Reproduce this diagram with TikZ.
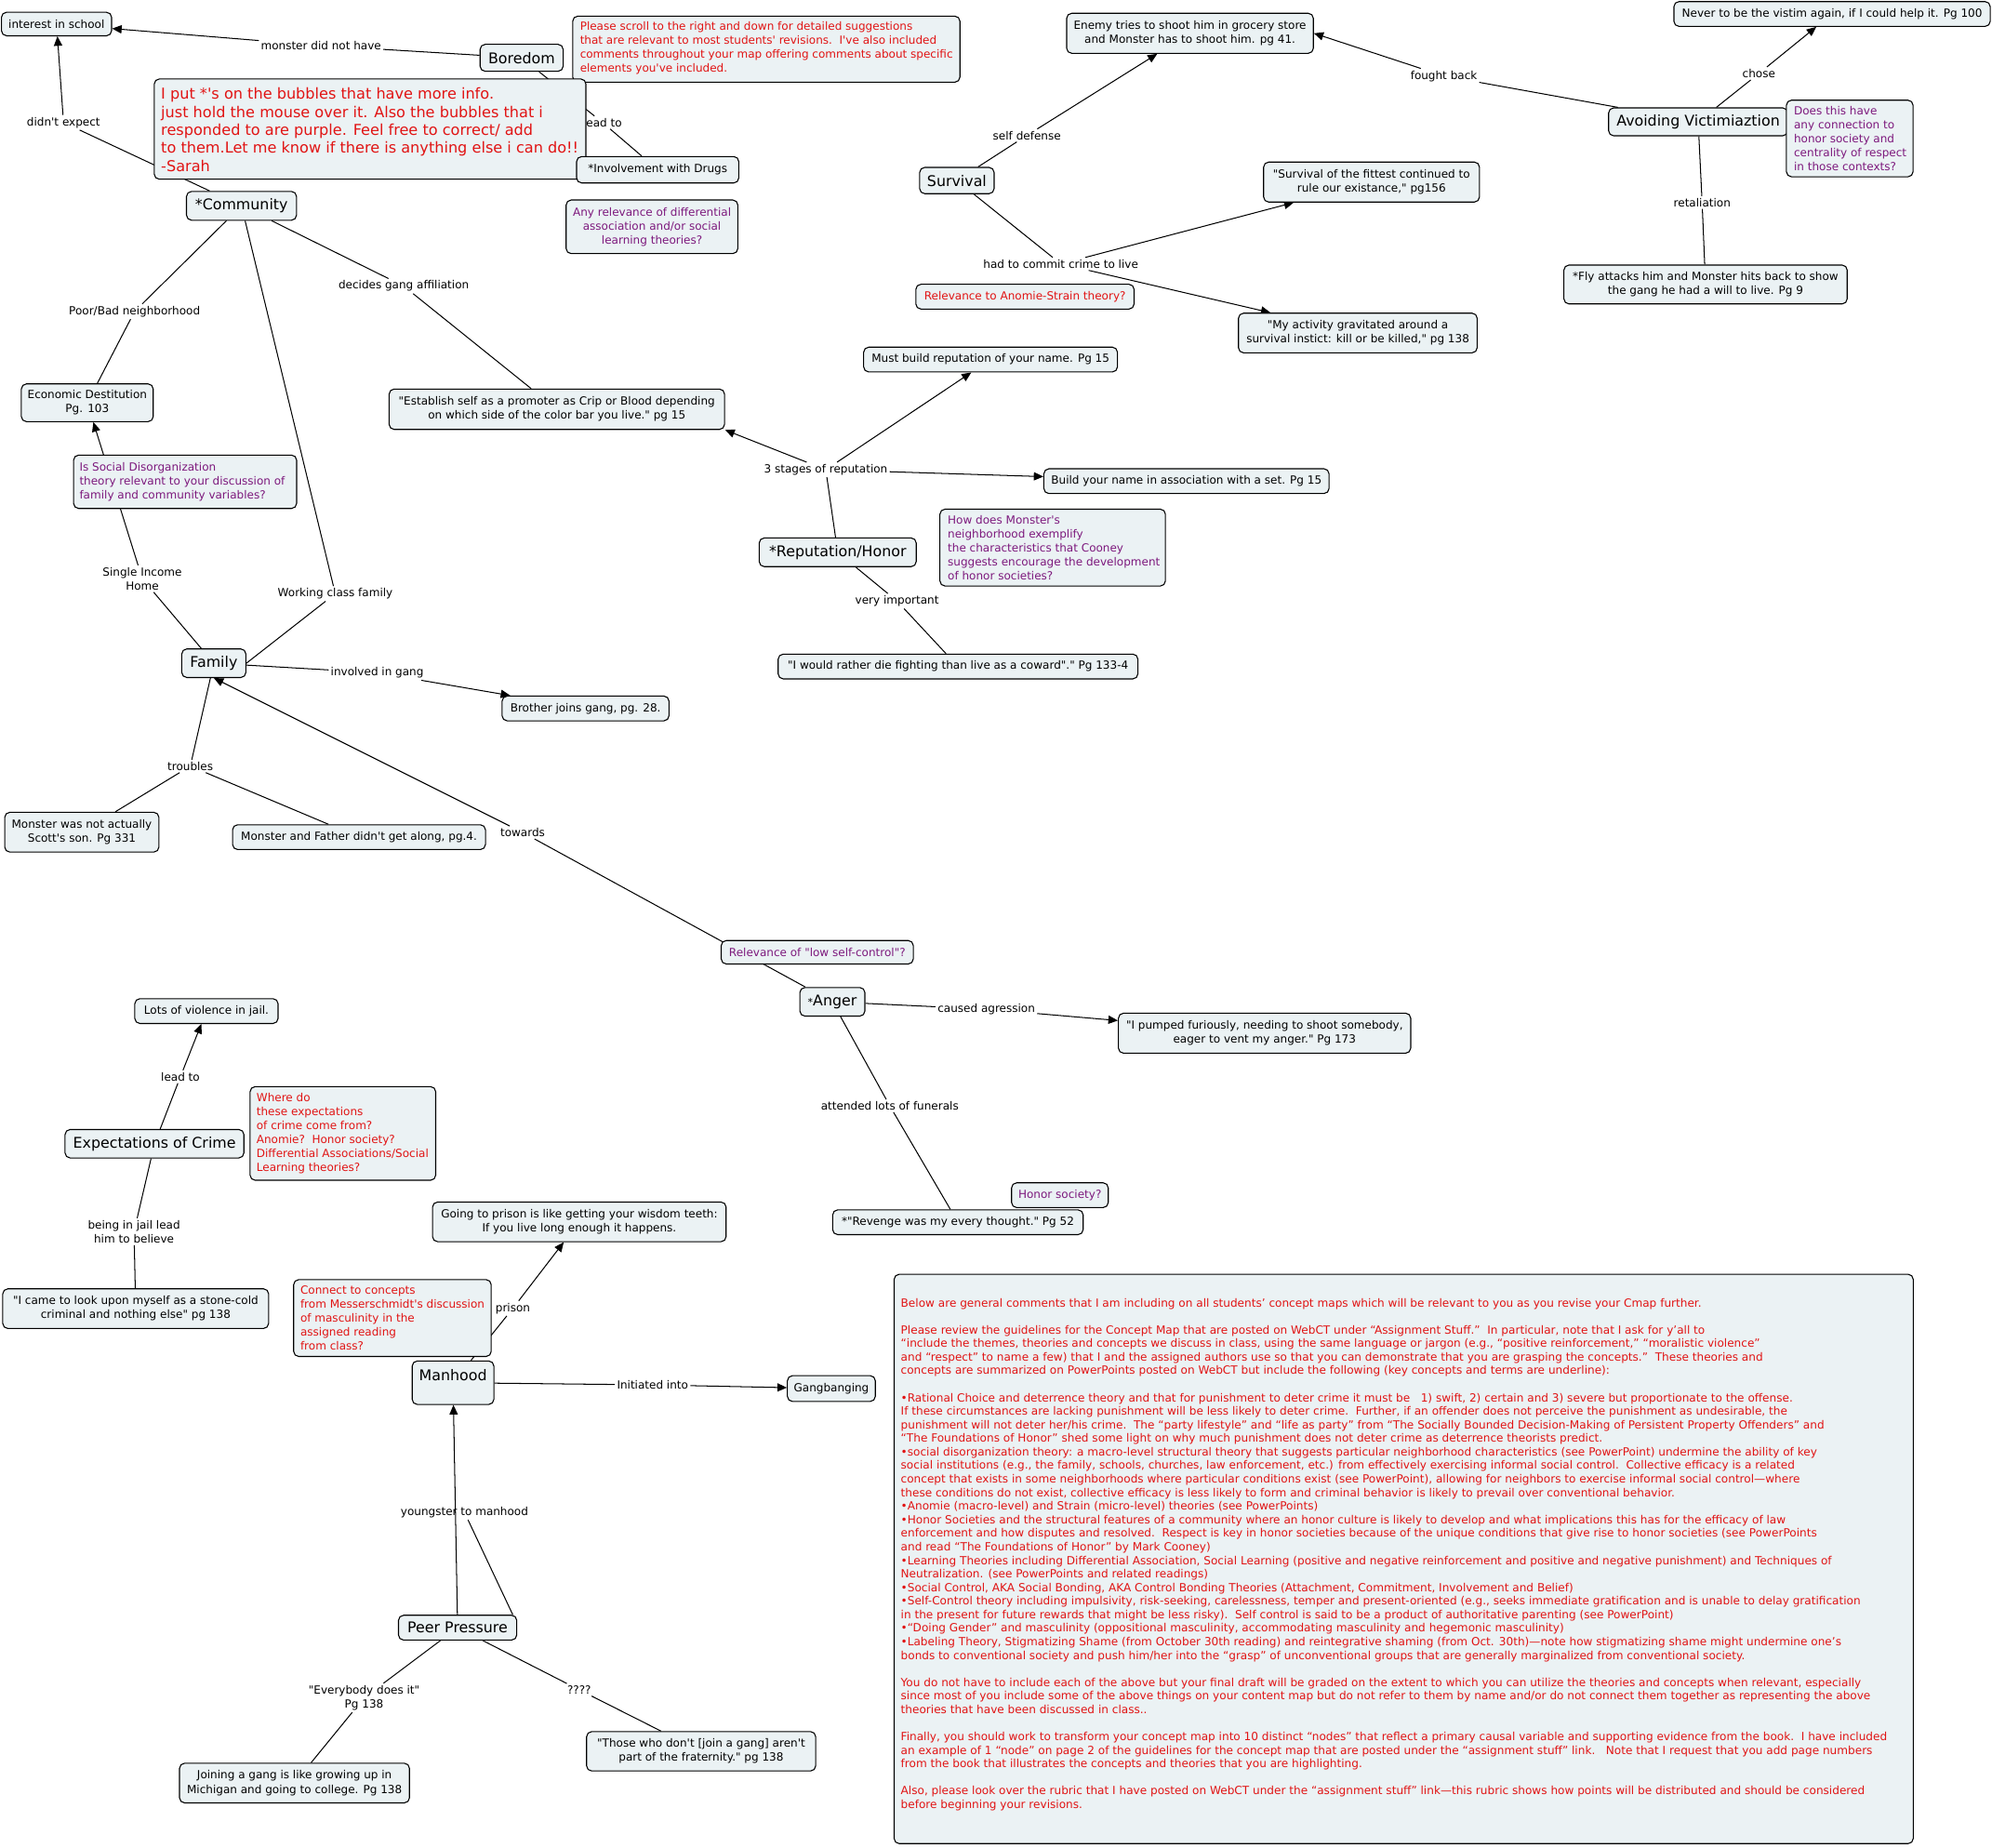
\documentclass[tikz,border=0pt]{standalone}
\usepackage{fontspec}
\setmainfont{DejaVu Sans}[Ligatures=TeXOff]
\usetikzlibrary{arrows.meta,calc}
\pgfdeclarelayer{background}
\pgfsetlayers{background,main}
\definecolor{boxfill}{RGB}{235,242,244}
\definecolor{cpurple}{RGB}{125,25,125}
\definecolor{cred}{RGB}{225,20,20}
\newcommand\fsN{\fontsize{8.8}{11}\selectfont}
\newcommand\fsB{\fontsize{11.6}{14}\selectfont}
\newcommand\fsS{\fontsize{11.8}{14.2}\selectfont}
\newcommand\fsC{\fontsize{8.85}{10.67}\selectfont}
\begin{document}
\begin{tikzpicture}[x=1pt,y=-1pt,
  cb/.style={draw=black,line width=0.8pt,fill=boxfill,rounded corners=4pt,inner sep=0pt,align=center,font=\fsN},
  bb/.style={cb,font=\fsB},
  sz/.style 2 args={minimum width=#1,minimum height=#2},
  pu/.style={text=cpurple},
  rd/.style={text=cred},
  lt/.style={anchor=west,inner sep=0pt,align=left,font=\fsN},
  lb/.style={inner sep=1.5pt,align=center,font=\fsN},
  ln/.style={line width=0.75pt},
  ar/.style={line width=0.75pt,-{Triangle[length=7.5pt,width=6.5pt]}}]
\useasboundingbox (0,0) rectangle (1568,1454);

% ---------- concepts ----------
\node[cb,sz={86.7}{18.5}] (interest) at (44.5,18.9) {interest in school};
\node[bb,sz={65.4}{21.2}] (boredom) at (410.6,45.5) {Boredom};
\node[cb,sz={304.8}{52}] (scroll) at (603.2,38.7) {};
\node[lt,rd] (scrolltxt) at ($(scroll.west)+(6,-0.8)$) {Please scroll to the right and down for detailed suggestions\\that are relevant to most students' revisions.\ \ I've also included\\comments throughout your map offering comments about specific\\elements you've included.};
\node[lb] (lmdnh) at (252.7,35.9) {monster did not have};
\node[lb] (lde) at (50,96.4) {didn't expect};
\node[lb] (llead) at (474.3,96.4) {lead to};
\node[cb,sz={339.8}{78.9}] (sarah) at (291.3,101.6) {};
\node[lt,rd,font=\fsS] (sarahtxt) at ($(sarah.west)+(5.6,0.5)$) {I put *'s on the bubbles that have more info.\\just hold the mouse over it. Also the bubbles that i\\responded to are purple. Feel free to correct/ add\\to them.Let me know if there is anything else i can do!!\\-Sarah};
\node[cb,sz={127.7}{20.8}] (drugs) at (517.7,133.6) {*Involvement with Drugs};
\node[cb,pu,sz={135.2}{42.2}] (anyrel) at (513.2,178.5) {Any relevance of differential\\association and/or social\\learning theories?};
\node[bb,sz={86.6}{22.7}] (community) at (190.1,162) {*Community};
\node[cb,sz={103.8}{29.7}] (econ) at (68.7,317) {Economic Destitution\\Pg. 103};
\node[cb,sz={175.6}{42}] (socdis) at (145.7,379.2) {};
\node[lt,pu] (socdistxt) at ($(socdis.west)+(4.9,0)$) {Is Social Disorganization\\theory relevant to your discussion of\\family and community variables?};
\node[cb,sz={264}{31.8}] (establish) at (438.3,322.1) {"Establish self as a promoter as Crip or Blood depending\\on which side of the color bar you live." pg 15};
\node[bb,sz={50.5}{22.5}] (family) at (168.3,522) {Family};
\node[cb,sz={131.4}{19.5}] (brother) at (460.9,557.6) {Brother joins gang, pg. 28.};
\node[cb,sz={121.4}{31.3}] (notson) at (64.4,655) {Monster was not actually\\Scott's son. Pg 331};
\node[cb,sz={199.1}{19.5}] (father) at (282.6,658.9) {Monster and Father didn't get along, pg.4.};
\node[bb,sz={58.6}{20.7}] (survival) at (753.2,142.1) {Survival};
\node[cb,sz={194.2}{31.5}] (enemy) at (936.7,26.2) {Enemy tries to shoot him in grocery store\\and Monster has to shoot him. pg 41.};
\node[cb,sz={169.9}{31.5}] (fittest) at (1079.6,143.3) {"Survival of the fittest continued to\\rule our existance," pg156};
\node[cb,rd,sz={171.8}{19.5}] (anomie) at (806.8,233.5) {Relevance to Anomie-Strain theory?};
\node[cb,sz={187.9}{31.2}] (activity) at (1068.8,262.1) {"My activity gravitated around a\\survival instict: kill or be killed," pg 138};
\node[cb,sz={199.8}{19.5}] (mustbuild) at (779.7,283) {Must build reputation of your name. Pg 15};
\node[cb,sz={224.5}{19.5}] (buildname) at (933.9,378.7) {Build your name in association with a set. Pg 15};
\node[bb,sz={123.6}{22.6}] (rep) at (659.4,434.7) {*Reputation/Honor};
\node[cb,sz={177.5}{60.5}] (howdoes) at (828.6,431) {};
\node[lt,pu] (howdoestxt) at ($(howdoes.west)+(6.4,0)$) {How does Monster's\\neighborhood exemplify\\the characteristics that Cooney\\suggests encourage the development\\of honor societies?};
\node[cb,sz={283.2}{19.5}] (rather) at (754.1,524.6) {"I would rather die fighting than live as a coward"." Pg 133-4};
\node[cb,sz={249}{19.5}] (never) at (1442.1,11) {Never to be the vistim again, if I could help it. Pg 100};
\node[bb,sz={141}{22}] (avoid) at (1336.7,95.9) {Avoiding Victimiaztion};
\node[cb,sz={99.7}{60.3}] (doesthis) at (1456,109) {};
\node[lt,pu] (doesthistxt) at ($(doesthis.west)+(6.2,0)$) {Does this have\\any connection to\\honor society and\\centrality of respect\\in those contexts?};
\node[cb,sz={223}{30.6}] (fly) at (1342.5,223.9) {*Fly attacks him and Monster hits back to show\\the gang he had a will to live. Pg 9};
\node[cb,pu,sz={151.2}{18.5}] (lowself) at (643.3,749.5) {Relevance of "low self-control"?};
\node[bb,sz={51.2}{22.5}] (anger) at (655.2,788.5) {{\fontsize{8}{9}\selectfont *}Anger};
\node[cb,sz={230.1}{31.5}] (pumped) at (995.4,813.2) {"I pumped furiously, needing to shoot somebody,\\eager to vent my anger." Pg 173};
\node[cb,pu,sz={76.1}{19.5}] (honorsoc) at (834.3,940.7) {Honor society?};
\node[cb,sz={197.2}{19.5}] (revenge) at (754,962) {*"Revenge was my every thought." Pg 52};
\node[cb,sz={112.8}{19.5}] (violence) at (162.5,795.8) {Lots of violence in jail.};
\node[bb,sz={140.8}{22.4}] (expect) at (121.6,900.2) {Expectations of Crime};
\node[cb,sz={146.1}{73.7}] (wheredo) at (269.9,892.1) {};
\node[lt,rd] (wheredotxt) at ($(wheredo.west)+(5.3,0)$) {Where do\\these expectations\\of crime come from?\\Anomie?\ \ Honor society?\\Differential Associations/Social\\Learning theories?};
\node[cb,sz={209.3}{31.2}] (stonecold) at (106.8,1030) {"I came to look upon myself as a stone-cold\\criminal and nothing else" pg 138};
\node[cb,sz={231.1}{31.2}] (prison) at (456,961.7) {Going to prison is like getting your wisdom teeth:\\If you live long enough it happens.};
\node[cb,sz={155.5}{60.5}] (connect) at (308.9,1037.4) {};
\node[lt,rd] (connecttxt) at ($(connect.west)+(5.5,0)$) {Connect to concepts\\from Messerschmidt's discussion\\of masculinity in the\\assigned reading\\from class?};
\node[bb,sz={64.3}{34.2}] (manhood) at (356.6,1088.3) {};
\node[inner sep=0pt,font=\fsB] (manhoodtxt) at (356.6,1082.7) {Manhood};
\node[cb,sz={69.2}{20.3}] (gangbang) at (654.4,1092.9) {Gangbanging};
\node[bb,sz={93.1}{19.5}] (peer) at (360.2,1281.1) {Peer Pressure};
\node[cb,sz={181}{31.2}] (joining) at (231.8,1403.4) {Joining a gang is like growing up in\\Michigan and going to college. Pg 138};
\node[cb,sz={180.3}{31}] (those) at (551.9,1378.4) {"Those who don't [join a gang] aren't\\part of the fraternity." pg 138};

% ---------- big comment ----------
\node[cb,sz={802.2}{448.1}] (comment) at (1104.9,1227) {};
\node[anchor=north west,inner sep=0pt,align=left,font=\fsC,text=cred] (commenttxt) at (708.9,1021.6) {Below are general comments that I am including on all students’ concept maps which will be relevant to you as you revise your Cmap further.\\[10.67pt]
Please review the guidelines for the Concept Map that are posted on WebCT under “Assignment Stuff.”\ \ In particular, note that I ask for y’all to\\
“include the themes, theories and concepts we discuss in class, using the same language or jargon (e.g., “positive reinforcement,” “moralistic violence”\\
and “respect” to name a few) that I and the assigned authors use so that you can demonstrate that you are grasping the concepts.”\ \ These theories and\\
concepts are summarized on PowerPoints posted on WebCT but include the following (key concepts and terms are underline):\\[10.67pt]
•Rational Choice and deterrence theory and that for punishment to deter crime it must be\ \ \ 1) swift, 2) certain and 3) severe but proportionate to the offense.\\
If these circumstances are lacking punishment will be less likely to deter crime.\ \ Further, if an offender does not perceive the punishment as undesirable, the\\
punishment will not deter her/his crime.\ \ The “party lifestyle” and “life as party” from “The Socially Bounded Decision-Making of Persistent Property Offenders” and\\
“The Foundations of Honor” shed some light on why much punishment does not deter crime as deterrence theorists predict.\\
•social disorganization theory: a macro-level structural theory that suggests particular neighborhood characteristics (see PowerPoint) undermine the ability of key\\
social institutions (e.g., the family, schools, churches, law enforcement, etc.) from effectively exercising informal social control.\ \ Collective efficacy is a related\\
concept that exists in some neighborhoods where particular conditions exist (see PowerPoint), allowing for neighbors to exercise informal social control—where\\
these conditions do not exist, collective efficacy is less likely to form and criminal behavior is likely to prevail over conventional behavior.\\
•Anomie (macro-level) and Strain (micro-level) theories (see PowerPoints)\\
•Honor Societies and the structural features of a community where an honor culture is likely to develop and what implications this has for the efficacy of law\\
enforcement and how disputes and resolved.\ \ Respect is key in honor societies because of the unique conditions that give rise to honor societies (see PowerPoints\\
and read “The Foundations of Honor” by Mark Cooney)\\
•Learning Theories including Differential Association, Social Learning (positive and negative reinforcement and positive and negative punishment) and Techniques of\\
Neutralization. (see PowerPoints and related readings)\\
•Social Control, AKA Social Bonding, AKA Control Bonding Theories (Attachment, Commitment, Involvement and Belief)\\
•Self-Control theory including impulsivity, risk-seeking, carelessness, temper and present-oriented (e.g., seeks immediate gratification and is unable to delay gratification\\
in the present for future rewards that might be less risky).\ \ Self control is said to be a product of authoritative parenting (see PowerPoint)\\
•“Doing Gender” and masculinity (oppositional masculinity, accommodating masculinity and hegemonic masculinity)\\
•Labeling Theory, Stigmatizing Shame (from October 30th reading) and reintegrative shaming (from Oct. 30th)—note how stigmatizing shame might undermine one’s\\
bonds to conventional society and push him/her into the “grasp” of unconventional groups that are generally marginalized from conventional society.\\[10.67pt]
You do not have to include each of the above but your final draft will be graded on the extent to which you can utilize the theories and concepts when relevant, especially\\
since most of you include some of the above things on your content map but do not refer to them by name and/or do not connect them together as representing the above\\
theories that have been discussed in class..\\[10.67pt]
Finally, you should work to transform your concept map into 10 distinct “nodes” that reflect a primary causal variable and supporting evidence from the book.\ \ I have included\\
an example of 1 “node” on page 2 of the guidelines for the concept map that are posted under the “assignment stuff” link.\ \ \ Note that I request that you add page numbers\\
from the book that illustrates the concepts and theories that you are highlighting.\\[10.67pt]
Also, please look over the rubric that I have posted on WebCT under the “assignment stuff” link—this rubric shows how points will be distributed and should be considered\\
before beginning your revisions.};

% ---------- linking phrases ----------
\node[lb] (lpoor) at (105.9,245.2) {Poor/Bad neighborhood};
\node[lb] (ldga) at (317.8,225.2) {decides gang affiliation};
\node[lb] (lsingle) at (112,455.5) {Single Income\\Home};
\node[lb] (lwcf) at (263.9,467.3) {Working class family};
\node[lb] (liig) at (296.9,529.5) {involved in gang};
\node[lb] (ltroubles) at (149.8,603) {troubles};
\node[lb] (ltowards) at (411.4,655.2) {towards};
\node[lb] (lselfdef) at (808.3,106.6) {self defense};
\node[lb] (lcrime) at (835,207.7) {had to commit crime to live};
\node[lb] (lfought) at (1136.5,59.8) {fought back};
\node[lb] (lchose) at (1384.5,57.8) {chose};
\node[lb] (lretal) at (1339.8,159.4) {retaliation};
\node[lb] (l3stages) at (650,369.7) {3 stages of reputation};
\node[lb] (lveryimp) at (706.1,473.1) {very important};
\node[lb] (lcaused) at (776.4,794.3) {caused agression};
\node[lb] (lfunerals) at (700.4,870.4) {attended lots of funerals};
\node[lb] (lleadb) at (142,847.5) {lead to};
\node[lb] (ljail) at (105.5,969.4) {being in jail lead\\him to believe};
\node[lb] (lprison) at (403.7,1029.8) {prison};
\node[lb] (linit) at (513.7,1090) {Initiated into};
\node[lb] (lytm) at (365.6,1190.3) {youngster to manhood};
\node[lb] (levery) at (286.6,1336.3) {"Everybody does it"\\Pg 138};
\node[lb] (lqq) at (455.9,1330) {????};
\coordinate (peerne) at ($(peer.north east)+(-3.5,0)$);

% ---------- connectors ----------
\begin{pgfonlayer}{background}
\draw[ln] (boredom) -- (lmdnh);
\draw[ar] (lmdnh) -- (interest);
\draw[ln] (community) -- (lde);
\draw[ar] (lde) -- (interest);
\draw[ln] (boredom) -- (llead);
\draw[ln] (llead) -- (drugs);
\draw[ln] (community) -- (lpoor);
\draw[ln] (lpoor) -- (econ);
\draw[ln] (community) -- (lwcf);
\draw[ln] (lwcf) -- (family.east);
\draw[ln] (community) -- (ldga);
\draw[ln] (ldga) -- (establish);
\draw[ln] (family) -- (lsingle);
\draw[ar] (lsingle) -- (econ);
\draw[ln] (family) -- (liig);
\draw[ar] (liig) -- (brother);
\draw[ln] (family) -- (ltroubles);
\draw[ln] (ltroubles) -- (notson);
\draw[ln] (ltroubles) -- (father);
\draw[ln] (anger) -- (ltowards);
\draw[ar] (ltowards) -- (family.south);
\draw[ln] (survival) -- (lselfdef);
\draw[ar] (lselfdef) -- (enemy);
\draw[ln] (survival) -- (lcrime);
\draw[ar] (lcrime) -- (fittest);
\draw[ar] (lcrime) -- (activity);
\draw[ln] (rep) -- (l3stages);
\draw[ar] (l3stages) -- (establish.south east);
\draw[ar] (l3stages) -- (mustbuild);
\draw[ar] (l3stages) -- (buildname);
\draw[ln] (rep) -- (lveryimp);
\draw[ln] (lveryimp) -- (rather);
\draw[ln] (avoid) -- (lfought);
\draw[ar] (lfought) -- (enemy.east);
\draw[ln] (avoid) -- (lchose);
\draw[ar] (lchose) -- (never);
\draw[ln] (avoid) -- (lretal);
\draw[ln] (lretal) -- (fly);
\draw[ln] (anger) -- (lcaused);
\draw[ar] (lcaused) -- (pumped);
\draw[ln] (anger) -- (lfunerals);
\draw[ln] (lfunerals) -- (revenge);
\draw[ln] (expect) -- (lleadb);
\draw[ar] (lleadb) -- (violence);
\draw[ln] (expect) -- (ljail);
\draw[ln] (ljail) -- (stonecold);
\draw[ln] (manhood) -- (lprison);
\draw[ar] (lprison) -- (prison);
\draw[ln] (manhood) -- (linit);
\draw[ar] (linit) -- (gangbang);
\draw[ln] (peerne) -- (lytm);
\draw[ln] (peer) -- (levery);
\draw[ln] (levery) -- (joining);
\draw[ln] (peer) -- (lqq);
\draw[ln] (lqq) -- (those);
\end{pgfonlayer}
\draw[ar] (peer) -- (manhood);
\end{tikzpicture}
\end{document}
